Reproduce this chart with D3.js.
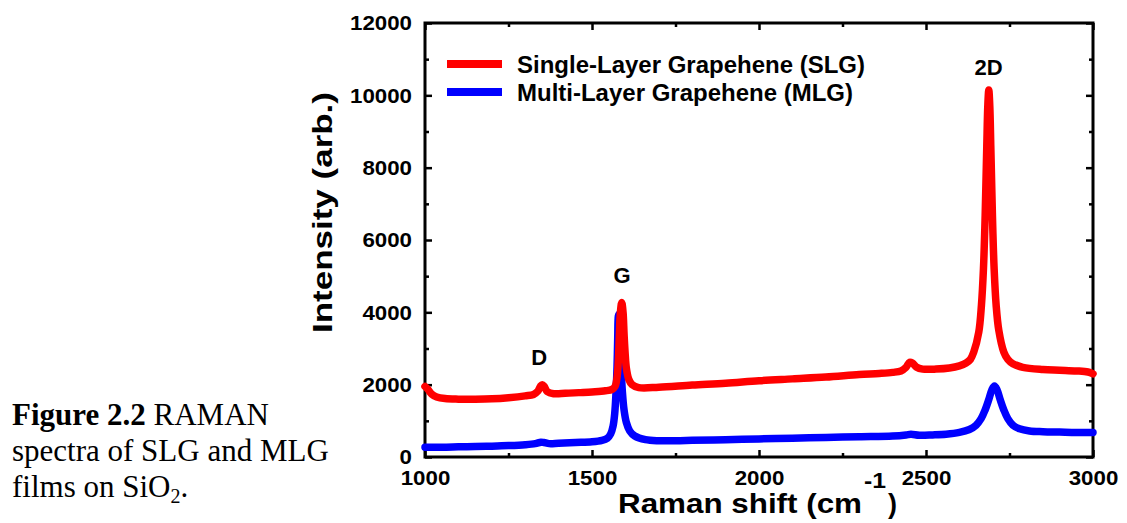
<!DOCTYPE html>
<html>
<head>
<meta charset="utf-8">
<script src="https://cdn.jsdelivr.net/npm/d3@7"></script>
<style>
  body { margin: 0; background: #fff; }
  svg { display: block; }
  .tick text { font-family: "Liberation Sans", Arial, sans-serif; font-weight: bold; font-size: 21px; fill: #000; }
  .tick line { stroke: #000; stroke-width: 2.5; }
</style>
</head>
<body>
<svg id="chart" width="1127" height="523"></svg>
<script>
// Raman shift (cm-1) / intensity pairs
const slgSpectrum = [
  [1000,1950],[1008,1880],[1020,1740],[1035,1660],[1060,1615],[1100,1600],[1150,1600],
  [1200,1610],[1250,1640],[1300,1690],[1325,1730],[1338,1820],[1346,1960],[1351,2000],
  [1357,1950],[1366,1810],[1385,1750],[1420,1760],[1460,1780],[1500,1800],[1540,1830],
  [1560,1870],[1569,1950],[1575,2200],[1579,2700],[1582,3400],[1585,4000],[1589,4270],
  [1593,4000],[1596,3400],[1599,2900],[1603,2450],[1610,2150],[1620,2000],[1640,1920],
  [1700,1930],[1800,1990],[1900,2040],[2000,2110],[2100,2160],[2200,2210],[2300,2280],
  [2360,2310],[2400,2340],[2425,2380],[2440,2480],[2451,2620],[2459,2600],[2472,2480],
  [2490,2430],[2530,2430],[2570,2460],[2600,2520],[2620,2600],[2633,2700],[2643,2900],
  [2658,3450],[2666,4200],[2672,5200],[2676,6300],[2679,7400],[2682,8600],[2685,9700],
  [2688,10150],[2691,9700],[2694,8600],[2697,7400],[2700,6300],[2704,5200],[2710,4200],
  [2718,3500],[2733,2900],[2745,2700],[2760,2580],[2790,2480],[2850,2420],[2900,2400],
  [2950,2380],[2985,2350],[3000,2300]
];

const mlgSpectrum = [
  [1000,270],[1050,270],[1100,280],[1150,290],[1200,300],[1250,315],[1300,340],
  [1330,370],[1347,410],[1356,400],[1372,370],[1400,380],[1450,400],[1500,420],
  [1530,460],[1546,520],[1556,640],[1563,850],[1568,1200],[1572,1800],[1575,2500],
  [1577,3300],[1579,3900],[1581,3950],[1584,3300],[1587,2500],[1591,1800],[1596,1300],
  [1603,950],[1613,720],[1628,580],[1660,480],[1700,450],[1750,450],[1800,460],
  [1900,480],[2000,500],[2100,520],[2200,540],[2300,560],[2400,580],[2440,610],
  [2455,630],[2480,600],[2520,610],[2560,630],[2600,680],[2630,760],[2650,880],
  [2665,1060],[2677,1300],[2688,1590],[2697,1850],[2705,1960],[2713,1850],[2722,1590],
  [2733,1300],[2745,1060],[2760,880],[2780,780],[2810,720],[2850,700],[2900,690],
  [2950,680],[3000,680]
];

const xTicks = [1000, 1500, 2000, 2500, 3000];
const xMinorTicks = [1250, 1750, 2250, 2750];
const yTicks = [0, 2000, 4000, 6000, 8000, 10000, 12000];
const yMinorTicks = [1000, 3000, 5000, 7000, 9000, 11000];

const seriesNames = ["Single-Layer Grapehene (SLG)", "Multi-Layer Grapehene (MLG)"];
const seriesColors = ["#ff0000", "#0000ff"];

// peak labels, placed in data units
const peakLabels = [
  { text: "D", x: 1342, y: 2544 },
  { text: "G", x: 1590, y: 4811 },
  { text: "2D", x: 2687, y: 10560 }
];

const captionLines = [
  [{ t: "Figure 2.2", bold: true }, { t: " RAMAN" }],
  [{ t: "spectra of SLG and MLG" }],
  [{ t: "films on SiO" }, { t: "2", sub: true }, { t: "." }]
];

const svg = d3.select("#chart");
const sans = '"Liberation Sans", Arial, sans-serif';

const margin = { top: 23, right: 34, bottom: 66, left: 425 };
const W = 1127, H = 523;

const x = d3.scaleLinear().domain([1000, 3000]).range([margin.left, W - margin.right]);
const y = d3.scaleLinear().domain([0, 12000]).range([H - margin.bottom, margin.top]);

// tick labels in the picture are a bit wider than plain Arial
const stretchLabels = g => g.selectAll("text")
  .attr("lengthAdjust", "spacingAndGlyphs")
  .attr("textLength", function () { return this.textContent.length * 12.4; });

const fmt = d3.format("d");

// bottom axis
svg.append("g")
  .attr("transform", `translate(0,${y(0)})`)
  .call(d3.axisBottom(x).tickValues(xTicks).tickFormat(fmt).tickSizeInner(-7).tickSizeOuter(0).tickPadding(13))
  .call(g => g.select(".domain").remove())
  .call(stretchLabels);
svg.append("g")
  .attr("transform", `translate(0,${y(0)})`)
  .call(d3.axisBottom(x).tickValues(xMinorTicks).tickSizeInner(-4).tickSizeOuter(0).tickFormat(""))
  .call(g => g.select(".domain").remove());

// top axis (ticks only)
svg.append("g")
  .attr("transform", `translate(0,${y(12000)})`)
  .call(d3.axisTop(x).tickValues(xTicks).tickSizeInner(-7).tickSizeOuter(0).tickFormat(""))
  .call(g => g.select(".domain").remove());
svg.append("g")
  .attr("transform", `translate(0,${y(12000)})`)
  .call(d3.axisTop(x).tickValues(xMinorTicks).tickSizeInner(-4).tickSizeOuter(0).tickFormat(""))
  .call(g => g.select(".domain").remove());

// left axis
svg.append("g")
  .attr("transform", `translate(${x(1000)},0)`)
  .call(d3.axisLeft(y).tickValues(yTicks).tickFormat(fmt).tickSizeInner(-7).tickSizeOuter(0).tickPadding(13))
  .call(g => g.select(".domain").remove())
  .call(stretchLabels);
svg.append("g")
  .attr("transform", `translate(${x(1000)},0)`)
  .call(d3.axisLeft(y).tickValues(yMinorTicks).tickSizeInner(-4).tickSizeOuter(0).tickFormat(""))
  .call(g => g.select(".domain").remove());

// right axis (ticks only)
svg.append("g")
  .attr("transform", `translate(${x(3000)},0)`)
  .call(d3.axisRight(y).tickValues(yTicks).tickSizeInner(-7).tickSizeOuter(0).tickFormat(""))
  .call(g => g.select(".domain").remove());
svg.append("g")
  .attr("transform", `translate(${x(3000)},0)`)
  .call(d3.axisRight(y).tickValues(yMinorTicks).tickSizeInner(-4).tickSizeOuter(0).tickFormat(""))
  .call(g => g.select(".domain").remove());

// frame
svg.append("rect")
  .attr("x", x(1000)).attr("y", y(12000))
  .attr("width", x(3000) - x(1000)).attr("height", y(0) - y(12000))
  .attr("fill", "none").attr("stroke", "#000").attr("stroke-width", 3);

// spectra
const line = d3.line()
  .x(d => x(d[0]))
  .y(d => y(d[1]))
  .curve(d3.curveCatmullRom.alpha(0.5));

[mlgSpectrum, slgSpectrum].forEach((data, i) => {
  svg.append("path")
    .datum(data)
    .attr("d", line)
    .attr("fill", "none")
    .attr("stroke", i === 0 ? seriesColors[1] : seriesColors[0])
    .attr("stroke-width", 7.5)
    .attr("stroke-linejoin", "round")
    .attr("stroke-linecap", "round");
});

// peak labels
svg.append("g")
  .selectAll("text")
  .data(peakLabels)
  .enter().append("text")
  .attr("x", d => x(d.x))
  .attr("y", d => y(d.y))
  .attr("text-anchor", "middle")
  .attr("font-family", sans)
  .attr("font-weight", "bold")
  .attr("font-size", 22)
  .text(d => d.text);

// legend
const legendLen = [348, 336];
const legend = svg.append("g");
seriesNames.forEach((name, i) => {
  const ly = 64 + i * 28;
  legend.append("line")
    .attr("x1", 447).attr("x2", 502)
    .attr("y1", ly).attr("y2", ly)
    .attr("stroke", seriesColors[i])
    .attr("stroke-width", 8);
  legend.append("text")
    .attr("x", 517).attr("y", ly + 9)
    .attr("font-family", sans)
    .attr("font-weight", "bold")
    .attr("font-size", 23)
    .attr("lengthAdjust", "spacingAndGlyphs")
    .attr("textLength", legendLen[i])
    .text(name);
});

// axis titles
svg.append("text")
  .attr("x", 618).attr("y", 513)
  .attr("font-family", sans).attr("font-weight", "bold").attr("font-size", 27)
  .attr("lengthAdjust", "spacingAndGlyphs")
  .attr("textLength", 244)
  .text("Raman shift (cm");
svg.append("text")
  .attr("x", 864).attr("y", 488)
  .attr("font-family", sans).attr("font-weight", "bold").attr("font-size", 22)
  .attr("lengthAdjust", "spacingAndGlyphs")
  .attr("textLength", 22)
  .text("-1");
svg.append("text")
  .attr("x", 888).attr("y", 513)
  .attr("font-family", sans).attr("font-weight", "bold").attr("font-size", 27)
  .text(")");

svg.append("text")
  .attr("transform", "translate(332,333) rotate(-90)")
  .attr("font-family", sans).attr("font-weight", "bold").attr("font-size", 27)
  .attr("lengthAdjust", "spacingAndGlyphs")
  .attr("textLength", 241)
  .text("Intensity (arb.)");

// figure caption
const caption = svg.append("text")
  .attr("font-family", '"Liberation Serif", "Times New Roman", serif')
  .attr("font-size", 31)
  .attr("fill", "#000");
captionLines.forEach((parts, i) => {
  parts.forEach((p, j) => {
    const ts = caption.append("tspan").text(p.t);
    if (j === 0) ts.attr("x", 12).attr("y", 425 + i * 36);
    if (p.bold) ts.attr("font-weight", "bold");
    if (p.sub) ts.attr("font-size", 20).attr("dy", 6);
    else if (j > 0 && parts[j - 1].sub) ts.attr("dy", -6);
  });
});
</script>
</body>
</html>
